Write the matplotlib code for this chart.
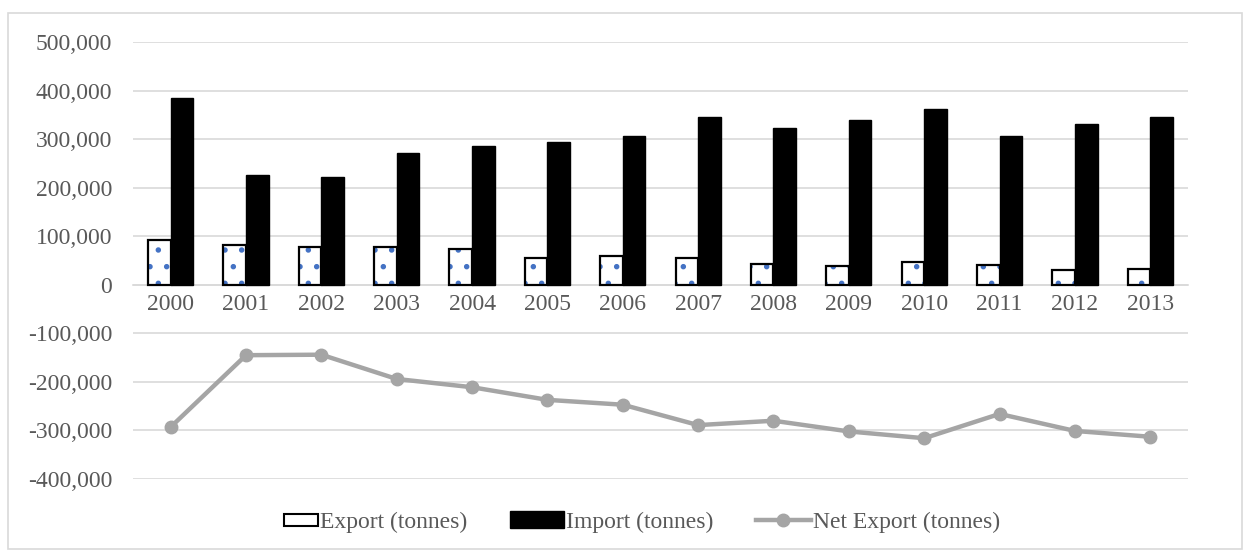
import numpy
import matplotlib
matplotlib.use('Agg')
from matplotlib import pyplot as plt
from matplotlib.patches import Rectangle, Patch
from matplotlib.lines import Line2D
from matplotlib.legend_handler import HandlerPatch
from matplotlib.ticker import FuncFormatter

years = ['2000', '2001', '2002', '2003', '2004', '2005', '2006',
         '2007', '2008', '2009', '2010', '2011', '2012', '2013']
export_t = [92000, 81000, 78000, 77000, 74000, 56000, 60000,
            56000, 43000, 38000, 47000, 41000, 31000, 33000]
import_t = [385000, 226000, 222000, 271000, 285000, 293000, 307000,
            345000, 323000, 340000, 363000, 307000, 332000, 346000]
net_t = [-293000, -145000, -144000, -194000, -211000, -237000, -247000,
         -289000, -280000, -302000, -316000, -266000, -301000, -313000]

txt = '#595959'
grid = '#d9d9d9'
linec = '#a5a5a5'

plt.rcParams['font.family'] = ['Liberation Serif', 'DejaVu Serif']
plt.rcParams['hatch.linewidth'] = 1.5

fig = plt.figure(figsize=(12.51, 5.59), dpi=100)
ax = fig.add_axes([0.1063, 0.1431, 0.8433, 0.7818])

# outer chart border
fig.patches.append(Rectangle((8/1251, 1-549/559), 1234/1251, 536/559, transform=fig.transFigure,
                             fill=False, edgecolor=grid, linewidth=1.2))

x = numpy.arange(len(years))
w = 0.3
# export: white with sparse blue dots, black outline
ax.bar(x - w/2, export_t, width=w, color='white', edgecolor='#4472c4', hatch='.', linewidth=0, zorder=2)
ax.bar(x - w/2, export_t, width=w, fill=False, edgecolor='black', linewidth=1.6, zorder=3)
ax.bar(x + w/2, import_t, width=w, color='black', edgecolor='black', linewidth=1, zorder=3)
ax.plot(x, net_t, color=linec, linewidth=3.2, marker='o', markersize=9, zorder=4)

ax.set_xlim(-0.5, len(years) - 0.5)
ax.set_ylim(-400000, 500000)
ax.set_yticks(numpy.arange(-400000, 500001, 100000))
ax.yaxis.set_major_formatter(FuncFormatter(lambda v, p: '{:,.0f}'.format(v)))
ax.grid(axis='y', color=grid, linewidth=1.2, zorder=0)
ax.set_axisbelow(True)
for s in ['top', 'right', 'left']:
    ax.spines[s].set_visible(False)
ax.spines['bottom'].set_position(('data', 0))
ax.spines['bottom'].set_color(grid)
ax.spines['bottom'].set_linewidth(1.2)
ax.set_xticks(x)
ax.set_xticklabels(years)
ax.tick_params(axis='both', length=0, labelsize=17, labelcolor=txt)
ax.tick_params(axis='x', pad=7)
ax.tick_params(axis='y', pad=15)

def small_box(legend, orig_handle, xdescent, ydescent, width, height, fontsize):
    # export legend key is a short box, not the full key length
    return Rectangle((width - 0.62*width - xdescent, -ydescent + 0.1*height), 0.62*width, 0.75*height)

handles = [Patch(facecolor='white', edgecolor='black', linewidth=1.5),
           Patch(facecolor='black', edgecolor='black'),
           Line2D([0], [0], color=linec, linewidth=3.2, marker='o', markersize=9)]
labels = ['Export (tonnes)', 'Import (tonnes)', 'Net Export (tonnes)']
leg = fig.legend(handles, labels, loc='center', bbox_to_anchor=(0.505, 1-522/559), ncol=3,
                 frameon=False, fontsize=17, handlelength=2.3, handletextpad=0.1, columnspacing=1.8,
                 handler_map={handles[0]: HandlerPatch(patch_func=small_box)})
for t in leg.get_texts():
    t.set_color(txt)

plt.savefig('out.png', dpi=100)
